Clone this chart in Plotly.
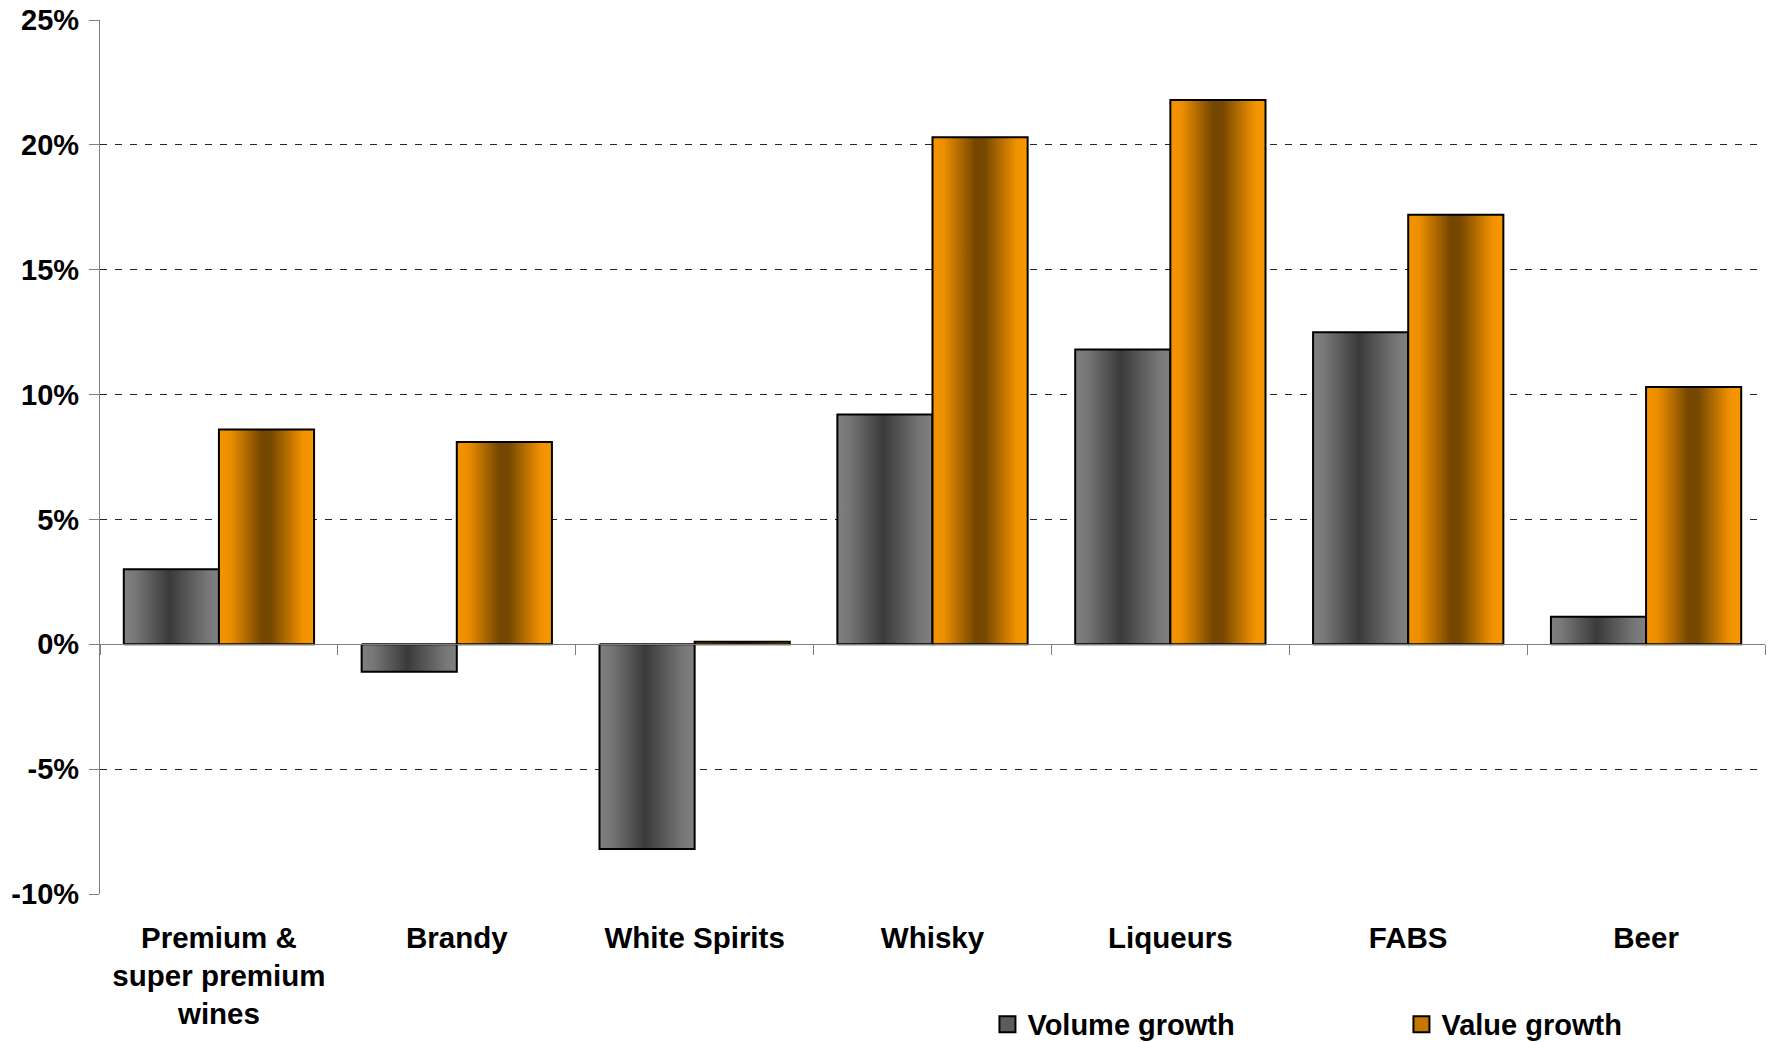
import plotly.graph_objects as go

# Growth by drinks category, volume vs value (%)
categories = [
    "Premium &<br>super premium<br>wines",
    "Brandy",
    "White Spirits",
    "Whisky",
    "Liqueurs",
    "FABS",
    "Beer",
]
volume_growth = [3.0, -1.1, -8.2, 9.2, 11.8, 12.5, 1.1]
value_growth = [8.6, 8.1, 0.1, 20.3, 21.8, 17.2, 10.3]
series_names = ["Volume growth", "Value growth"]
y_ticks = [-10, -5, 0, 5, 10, 15, 20, 25]
y_tick_text = [f"{v}%" for v in y_ticks]

# Styling
BAR_W = 0.4
OFFSETS = [-0.4, 0.0]
SOLID = ["#5c5c5c", "#c47600"]
GRADIENTS = [
    [[0.0, "#808080"], [0.12, "#777777"], [0.48, "#3a3a3a"], [0.88, "#777777"], [1.0, "#808080"]],
    [[0.0, "#f59400"], [0.12, "#ec8e00"], [0.45, "#744600"], [0.55, "#774800"], [0.88, "#f09100"], [1.0, "#f89800"]],
]
FONT = "Liberation Sans, Arial, sans-serif"
AXIS_GRAY = "#808080"

idx = list(range(len(categories)))
series_values = [volume_growth, value_growth]

fig = go.Figure()

# Gradient-shaded bars, one filled rectangle per category and series
for s, (vals, off, cs) in enumerate(zip(series_values, OFFSETS, GRADIENTS)):
    for i, v in zip(idx, vals):
        x0 = i + off
        x1 = x0 + BAR_W
        fig.add_trace(go.Scatter(
            x=[x0, x0, x1, x1, x0], y=[0, v, v, 0, 0],
            mode="lines", fill="toself",
            fillgradient=dict(type="horizontal", colorscale=cs, start=x0, stop=x1),
            line=dict(color="black", width=2),
            xaxis="x2", showlegend=False, hoverinfo="skip",
        ))

# Legend keys (square swatches)
for name, col in zip(series_names, SOLID):
    fig.add_trace(go.Scatter(
        x=[None], y=[None], mode="markers", name=name,
        marker=dict(symbol="square", size=16, color=col, line=dict(color="black", width=2)),
    ))

y_lo, y_hi = y_ticks[0], y_ticks[-1]
zero_pos = (0 - y_lo) / (y_hi - y_lo)
boundaries = [i - 0.5 for i in range(len(categories) + 1)]

fig.update_layout(
    width=1772, height=1042,
    margin=dict(l=100, r=7, t=20, b=148, autoexpand=False),
    paper_bgcolor="white", plot_bgcolor="white",
    font=dict(family=FONT, size=28, color="black"),
    xaxis=dict(
        range=[-0.5, len(categories) - 0.5],
        tickvals=idx, ticktext=categories,
        ticks="", showline=False, showgrid=False, zeroline=False,
        tickfont=dict(family=FONT, size=29.5, color="black", weight="bold"),
        ticklabelstandoff=23, automargin=False,
    ),
    xaxis2=dict(
        overlaying="x", anchor="free", position=zero_pos,
        range=[-0.5, len(categories) - 0.5],
        tickvals=boundaries, showticklabels=False,
        ticks="outside", ticklen=10, tickwidth=1.3, tickcolor=AXIS_GRAY,
        showline=True, linecolor=AXIS_GRAY, linewidth=1.3,
        showgrid=False, zeroline=False, automargin=False,
    ),
    yaxis=dict(
        range=[y_lo, y_hi], tickvals=y_ticks, ticktext=y_tick_text,
        ticks="outside", ticklen=10, tickwidth=1.3, tickcolor=AXIS_GRAY,
        showline=True, linecolor=AXIS_GRAY, linewidth=1.3,
        showgrid=True, gridcolor="#262626", gridwidth=1, griddash="7px,8px",
        zeroline=False, automargin=False, ticklabelstandoff=4,
        tickfont=dict(family=FONT, size=29, color="black", weight="bold"),
    ),
    legend=dict(
        orientation="h", xref="paper", x=0.533, xanchor="left",
        yref="container", y=0.017, yanchor="middle",
        entrywidth=369, bgcolor="rgba(0,0,0,0)",
        font=dict(family=FONT, size=29, color="black", weight="bold"),
    ),
)

fig.write_html("out.html")
